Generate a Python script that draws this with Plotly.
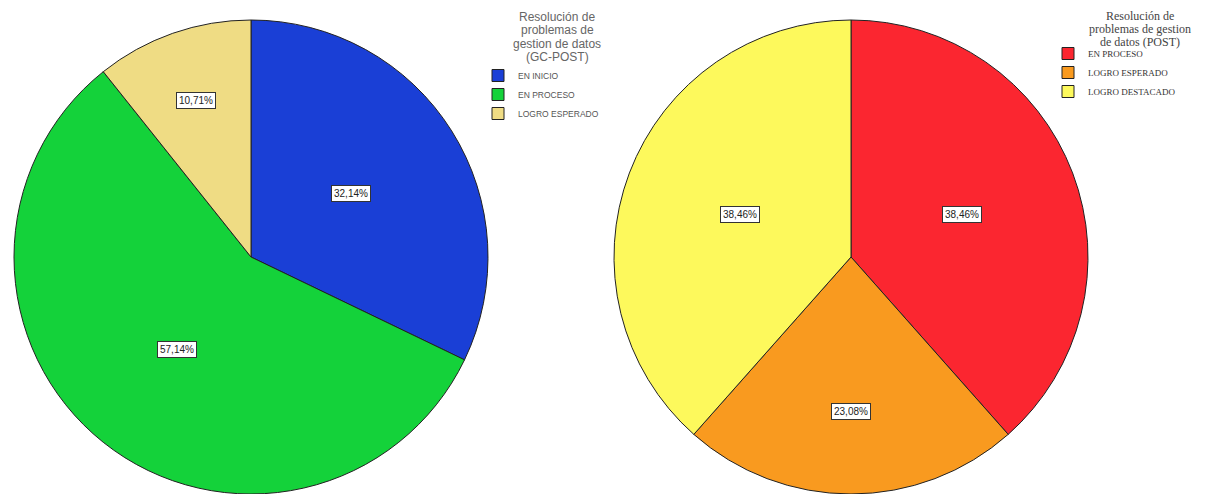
import math
import plotly.graph_objects as go

# left chart: Resolución de problemas de gestion de datos (GC-POST)
gc_title = ["Resolución de", "problemas de", "gestion de datos", "(GC-POST)"]
gc_labels = ["EN INICIO", "EN PROCESO", "LOGRO ESPERADO"]
gc_values = [32.14, 57.14, 10.71]
gc_colors = ["#1a3fd6", "#14d23a", "#efdc84"]

# right chart: Resolución de problemas de gestion de datos (POST)
post_title = ["Resolución de", "problemas de gestion", "de datos (POST)"]
post_labels = ["EN PROCESO", "LOGRO ESPERADO", "LOGRO DESTACADO"]
post_values = [38.46, 23.08, 38.46]
post_colors = ["#fb2630", "#f99a1f", "#fdf95c"]

# page body has an 8px margin, so the figure is a bit smaller than the window
OFF = 8
W, H = 1225 - OFF, 494 - OFF
R = 237
CY = 257


def px(x):
    return (x - OFF) / W


def py(y):
    return 1 - (y - OFF) / H


def pct_label(v):
    return f"{v:.2f}%".replace(".", ",")


def label_radius(share):
    # narrow slices get their label pushed outwards, like SPSS does
    if share < 0.15:
        return 0.7
    if share < 0.3:
        return 0.65
    return 0.5


def slice_annotations(values, cx):
    """white boxed labels along the slice mid angle"""
    anns = []
    total = sum(values)
    start = 0.0
    for v in values:
        mid = (start + v / 2) / total * 2 * math.pi
        start += v
        r = label_radius(v / total) * R
        anns.append(dict(
            x=px(cx + r * math.sin(mid)), y=py(CY - r * math.cos(mid)),
            xref="paper", yref="paper", xanchor="center", yanchor="middle",
            text=pct_label(v), showarrow=False,
            font=dict(family="Liberation Sans, Arial", size=10, color="#222"),
            bgcolor="white", bordercolor="#333", borderwidth=1, borderpad=2
        ))
    return anns


def title_annotations(lines, cx, y0, step, font):
    return [dict(x=px(cx), y=py(y0 + i * step), xref="paper", yref="paper",
                 text=t, showarrow=False, font=font, xanchor="center", yanchor="middle")
            for i, t in enumerate(lines)]


fig = go.Figure()

fig.add_trace(go.Pie(
    labels=gc_labels, values=gc_values,
    marker=dict(colors=gc_colors, line=dict(color="#222", width=1)),
    sort=False, direction="clockwise", rotation=0,
    textinfo="none", hoverinfo="label+percent",
    domain=dict(x=[px(251 - R), px(251 + R)], y=[0, py(20)]),
    legend="legend"
))

# zero-width space keeps the shared category names apart in the two legends
fig.add_trace(go.Pie(
    labels=[l + "\u200b" for l in post_labels], values=post_values,
    marker=dict(colors=post_colors, line=dict(color="#222", width=1)),
    sort=False, direction="clockwise", rotation=0,
    textinfo="none", hoverinfo="label+percent",
    domain=dict(x=[px(851 - R), px(851 + R)], y=[0, py(20)]),
    legend="legend2"
))

sans = dict(family="Liberation Sans, Arial", size=12, color="#666")
serif = dict(family="Liberation Serif, Times New Roman", size=12, color="#444")

fig.update_layout(
    width=W, height=H,
    margin=dict(l=0, r=0, t=0, b=0),
    paper_bgcolor="white",
    annotations=slice_annotations(gc_values, 251) + slice_annotations(post_values, 851)
    + title_annotations(gc_title, 557, 17, 13.3, sans)
    + title_annotations(post_title, 1140, 16, 13, serif),
    legend=dict(
        x=px(478), y=py(61), xanchor="left", yanchor="top",
        font=dict(family="Liberation Sans, Arial", size=8.5, color="#555"),
        bgcolor="rgba(0,0,0,0)", itemwidth=30, tracegroupgap=0
    ),
    legend2=dict(
        x=px(1048), y=py(39), xanchor="left", yanchor="top",
        font=dict(family="Liberation Serif, Times New Roman", size=9, color="#333"),
        bgcolor="rgba(0,0,0,0)", itemwidth=30, tracegroupgap=0
    ),
)

fig.write_html("out.html")
